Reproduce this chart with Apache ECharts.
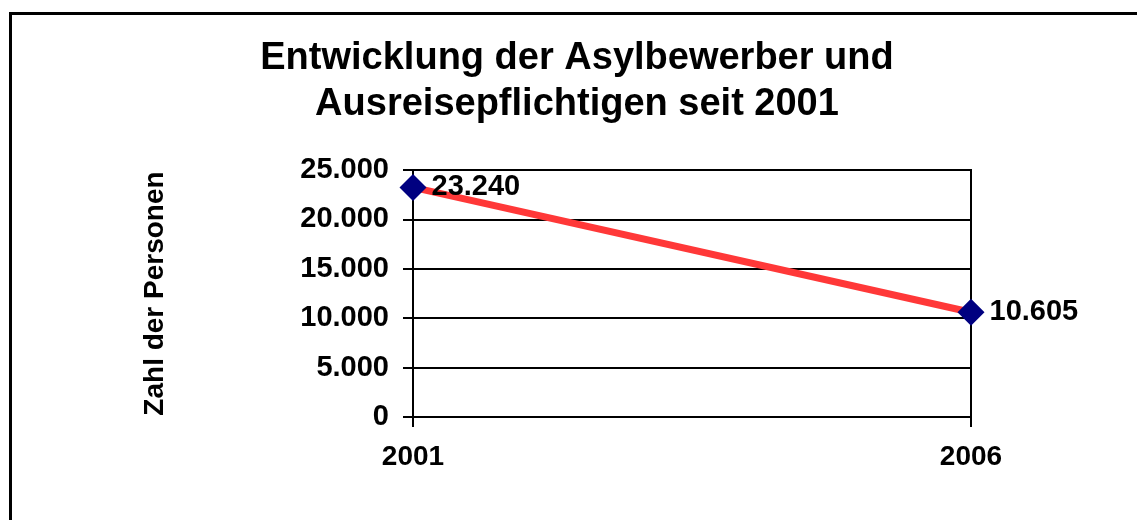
<!DOCTYPE html>
<html>
<head>
<meta charset="utf-8">
<title>Asylbewerber</title>
<script src="https://cdn.jsdelivr.net/npm/echarts@6/dist/echarts.min.js"></script>
<style>
  html, body { margin: 0; padding: 0; background: #fff; }
  #chart { width: 1137px; height: 520px; }
</style>
</head>
<body>
<div id="chart"></div>
<script>
// Daten
const jahre = ['2001', '2006']
const personen = [23240, 10605]
const yTicks = [0, 5000, 10000, 15000, 20000, 25000]

const font = '"Liberation Sans", Arial, sans-serif'

// deutsche Tausenderpunkte
function fmt (v) {
  return String(v).replace(/\B(?=(\d{3})+(?!\d))/g, '.')
}

const chart = echarts.init(document.getElementById('chart'))
chart.setOption({
  animation: false,
  backgroundColor: '#fff',
  // Rahmen um das ganze Diagramm
  graphic: [{
    type: 'rect',
    left: 8,
    top: 11,
    shape: { width: 1300, height: 700 },
    style: { fill: 'none', stroke: '#000', lineWidth: 3 },
    silent: true
  }],
  title: {
    text: 'Entwicklung der Asylbewerber und\nAusreisepflichtigen seit 2001',
    left: 577,
    top: 36,
    padding: 0,
    textAlign: 'center',
    textStyle: {
      fontFamily: font,
      fontWeight: 'bold',
      fontSize: 38,
      lineHeight: 46,
      color: '#000'
    }
  },
  grid: {
    left: 413,
    right: 166,
    top: 170,
    bottom: 103,
    show: true,
    borderColor: '#000',
    borderWidth: 2
  },
  xAxis: {
    type: 'category',
    boundaryGap: false,
    data: jahre,
    axisLine: { lineStyle: { color: '#000', width: 2 } },
    axisTick: { show: true, length: 10, lineStyle: { color: '#000', width: 2 } },
    axisLabel: {
      margin: 26,
      color: '#000',
      fontFamily: font,
      fontWeight: 'bold',
      fontSize: 28
    }
  },
  yAxis: {
    type: 'value',
    min: yTicks[0],
    max: yTicks[yTicks.length - 1],
    interval: yTicks[1] - yTicks[0],
    name: 'Zahl der Personen',
    nameLocation: 'middle',
    nameRotate: 90,
    nameGap: 244,
    nameTextStyle: {
      color: '#000',
      fontFamily: font,
      fontWeight: 'bold',
      fontSize: 28
    },
    axisLine: { show: true, lineStyle: { color: '#000', width: 2 } },
    axisTick: { show: true, length: 10, lineStyle: { color: '#000', width: 2 } },
    splitLine: { show: true, lineStyle: { color: '#000', width: 2 } },
    axisLabel: {
      margin: 24,
      padding: [5, 0, 0, 0],
      color: '#000',
      fontFamily: font,
      fontWeight: 'bold',
      fontSize: 29,
      formatter: fmt
    }
  },
  series: [{
    type: 'line',
    data: personen,
    symbol: 'diamond',
    symbolSize: 27,
    itemStyle: { color: '#000080' },
    lineStyle: { color: '#ff3838', width: 7 },
    label: {
      show: true,
      position: 'right',
      distance: 5,
      color: '#000',
      fontFamily: font,
      fontWeight: 'bold',
      fontSize: 29,
      formatter: p => fmt(p.value)
    }
  }]
})
</script>
</body>
</html>
